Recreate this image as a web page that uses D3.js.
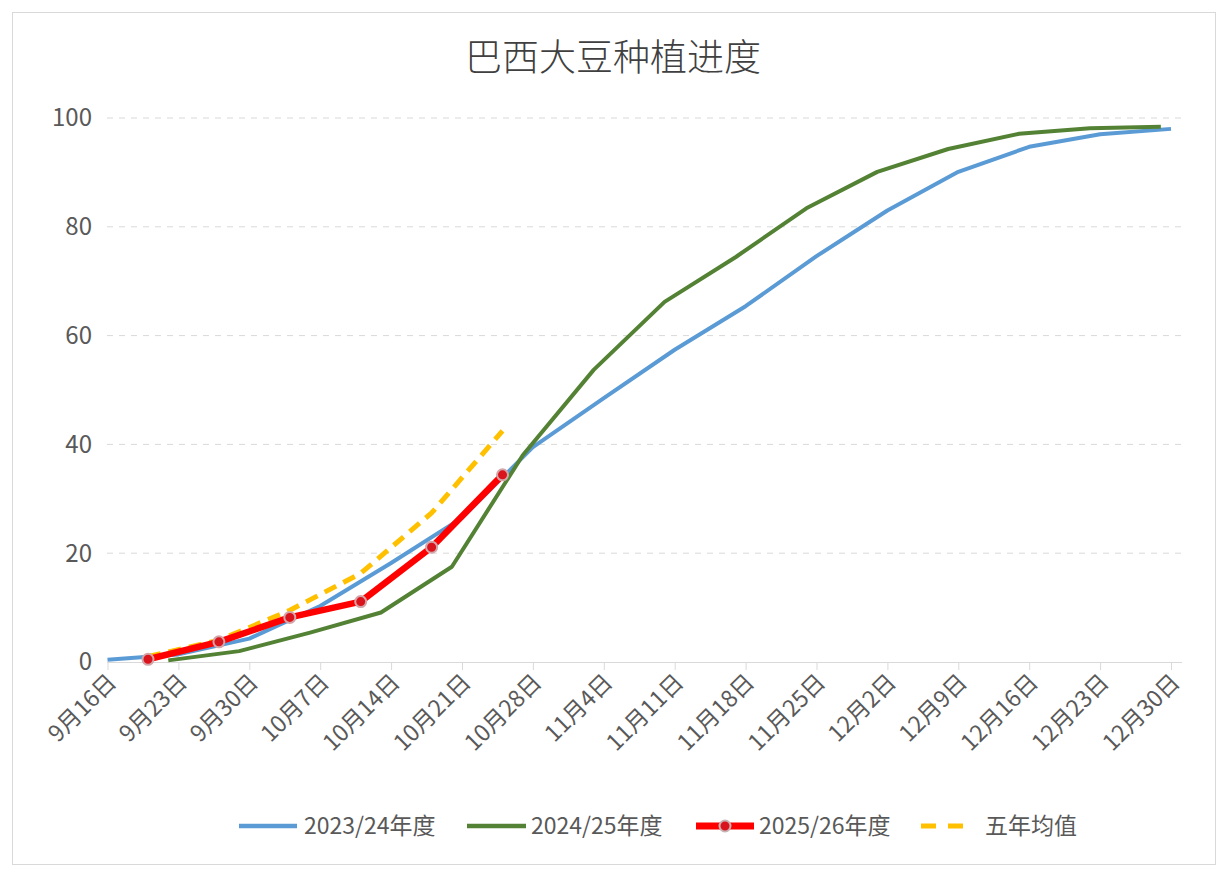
<!DOCTYPE html>
<html lang="zh">
<head>
<meta charset="UTF-8">
<title>巴西大豆种植进度</title>
<style>
  body { margin: 0; background: #fff; }
  text { font-family: "Noto Sans CJK SC", "Microsoft YaHei", sans-serif; }
</style>
</head>
<body>
<div id="root"></div>
<script src="https://d3js.org/d3.v7.min.js"></script>
<script>
// season dates (month-day), values in %
const dates2324 = ["9-16","9-23","9-30","10-7","10-14","10-21","10-28","11-4","11-11","11-18","11-25","12-2","12-9","12-16","12-23","12-30"]
const vals2324 = [0.4, 1.4, 4.3, 10.3, 18.2, 26.5, 39.5, 48.5, 57.4, 65.4, 74.6, 83, 90.1, 94.7, 97, 98]

const dates2425 = ["9-22","9-29","10-6","10-13","10-20","10-27","11-3","11-10","11-17","11-24","12-1","12-8","12-15","12-22","12-29"]
const vals2425 = [0.3, 2.0, 5.4, 9.1, 17.5, 38, 53.7, 66.2, 74.4, 83.4, 90.1, 94.3, 97.1, 98.1, 98.4]

const dates2526 = ["9-20","9-27","10-4","10-11","10-18","10-25"]
const vals2526 = [0.5, 3.7, 8.2, 11.1, 21.1, 34.4]

const dates5yr = ["9-20","9-27","10-4","10-11","10-18","10-25"]
const vals5yr = [1.0, 4.0, 9.5, 16.3, 27.4, 42.5]

const yTicks = [0, 20, 40, 60, 80, 100]
const xTickLabels = ["9月16日","9月23日","9月30日","10月7日","10月14日","10月21日","10月28日","11月4日","11月11日","11月18日","11月25日","12月2日","12月9日","12月16日","12月23日","12月30日"]
const seriesNames = ["2023/24年度", "2024/25年度", "2025/26年度", "五年均值"]

const parse = s => { const [m, d] = s.split("-").map(Number); return new Date(2025, m - 1, d) }
const toPts = (ds, vs) => ds.map((d, i) => ({date: parse(d), v: vs[i]}))

const W = 1228, H = 878
const svg = d3.select("#root").append("svg").attr("width", W).attr("height", H)

// chart border
svg.append("rect").attr("x", 12.5).attr("y", 12.5).attr("width", 1203).attr("height", 852)
  .attr("fill", "#fff").attr("stroke", "#d9d9d9")

svg.append("text").attr("x", 613).attr("y", 71).attr("text-anchor", "middle")
  .attr("font-size", 37).attr("font-weight", 300).attr("fill", "#404040")
  .text("巴西大豆种植进度")

const x = d3.scaleTime().domain([parse("9-16"), parse("12-30")]).range([107.5, 1171])
const y = d3.scaleLinear().domain([0, 100]).range([662, 118])

// gridlines
svg.append("g").selectAll("line").data(yTicks.filter(t => t > 0)).join("line")
  .attr("x1", 107).attr("x2", 1184)
  .attr("y1", d => y(d)).attr("y2", d => y(d))
  .attr("stroke", "#d9d9d9").attr("stroke-dasharray", "6,6").attr("stroke-width", 1)

// y labels
svg.append("g").selectAll("text").data(yTicks).join("text")
  .attr("x", 92).attr("y", d => y(d)).attr("dy", "0.35em").attr("text-anchor", "end")
  .attr("font-size", 24).attr("fill", "#595959").text(d => d)

// x axis: weekly ticks from 9/16
const xTicks = xTickLabels.map((_, i) => d3.timeDay.offset(parse("9-16"), 7 * i))
const xAxis = d3.axisBottom(x).tickValues(xTicks).tickFormat((d, i) => xTickLabels[i]).tickSize(8).tickSizeOuter(0)
const gx = svg.append("g").attr("transform", `translate(0,${y(0)})`).call(xAxis)
gx.select(".domain").attr("stroke", "#d9d9d9").attr("d", "M107,0.5H1182")
gx.selectAll(".tick line").attr("stroke", "#d9d9d9")
gx.selectAll(".tick text")
  .attr("font-size", 23).attr("fill", "#595959")
  .attr("font-family", "\"Noto Sans CJK SC\", sans-serif")
  .attr("text-anchor", "end")
  .attr("transform", "translate(4,16) rotate(-45)")
  .attr("dy", "0.35em").attr("y", 0).attr("x", 0)

const line = d3.line().x(d => x(d.date)).y(d => y(d.v))

const series = [
  {pts: toPts(dates2324, vals2324), color: "#5b9bd5", width: 4},
  {pts: toPts(dates2425, vals2425), color: "#548235", width: 4},
  {pts: toPts(dates5yr, vals5yr), color: "#ffc000", width: 5, dash: "13,8"},
  {pts: toPts(dates2526, vals2526), color: "#ff0000", width: 6.5, marker: true}
]

series.forEach(s => {
  svg.append("path").datum(s.pts).attr("d", line)
    .attr("fill", "none").attr("stroke", s.color).attr("stroke-width", s.width)
    .attr("stroke-linejoin", "round").attr("stroke-dasharray", s.dash || null)
  if (s.marker) {
    svg.append("g").selectAll("circle").data(s.pts).join("circle")
      .attr("cx", d => x(d.date)).attr("cy", d => y(d.v)).attr("r", 5.5)
      .attr("fill", "#d9141c").attr("stroke", "#d4a5a8").attr("stroke-width", 2)
  }
})

// legend
const legend = [
  {name: seriesNames[0], color: "#5b9bd5", width: 4.5, x0: 239, x1: 297, tx: 304},
  {name: seriesNames[1], color: "#548235", width: 4.5, x0: 467, x1: 526, tx: 531},
  {name: seriesNames[2], color: "#ff0000", width: 7, x0: 696, x1: 754, tx: 759, marker: true},
  {name: seriesNames[3], color: "#ffc000", width: 5, x0: 921, x1: 968, tx: 985, dash: "15,12"}
]
const ly = 826
legend.forEach(l => {
  const g = svg.append("g")
  g.append("line").attr("x1", l.x0).attr("x2", l.x1).attr("y1", ly).attr("y2", ly)
    .attr("stroke", l.color).attr("stroke-width", l.width).attr("stroke-dasharray", l.dash || null)
  if (l.marker) {
    g.append("circle").attr("cx", (l.x0 + l.x1) / 2).attr("cy", ly).attr("r", 5.5)
      .attr("fill", "#d9141c").attr("stroke", "#c9b4b5").attr("stroke-width", 2)
  }
  g.append("text").attr("x", l.tx).attr("y", ly).attr("dy", "0.35em")
    .attr("font-size", 23).attr("fill", "#595959").text(l.name)
})
</script>
</body>
</html>
